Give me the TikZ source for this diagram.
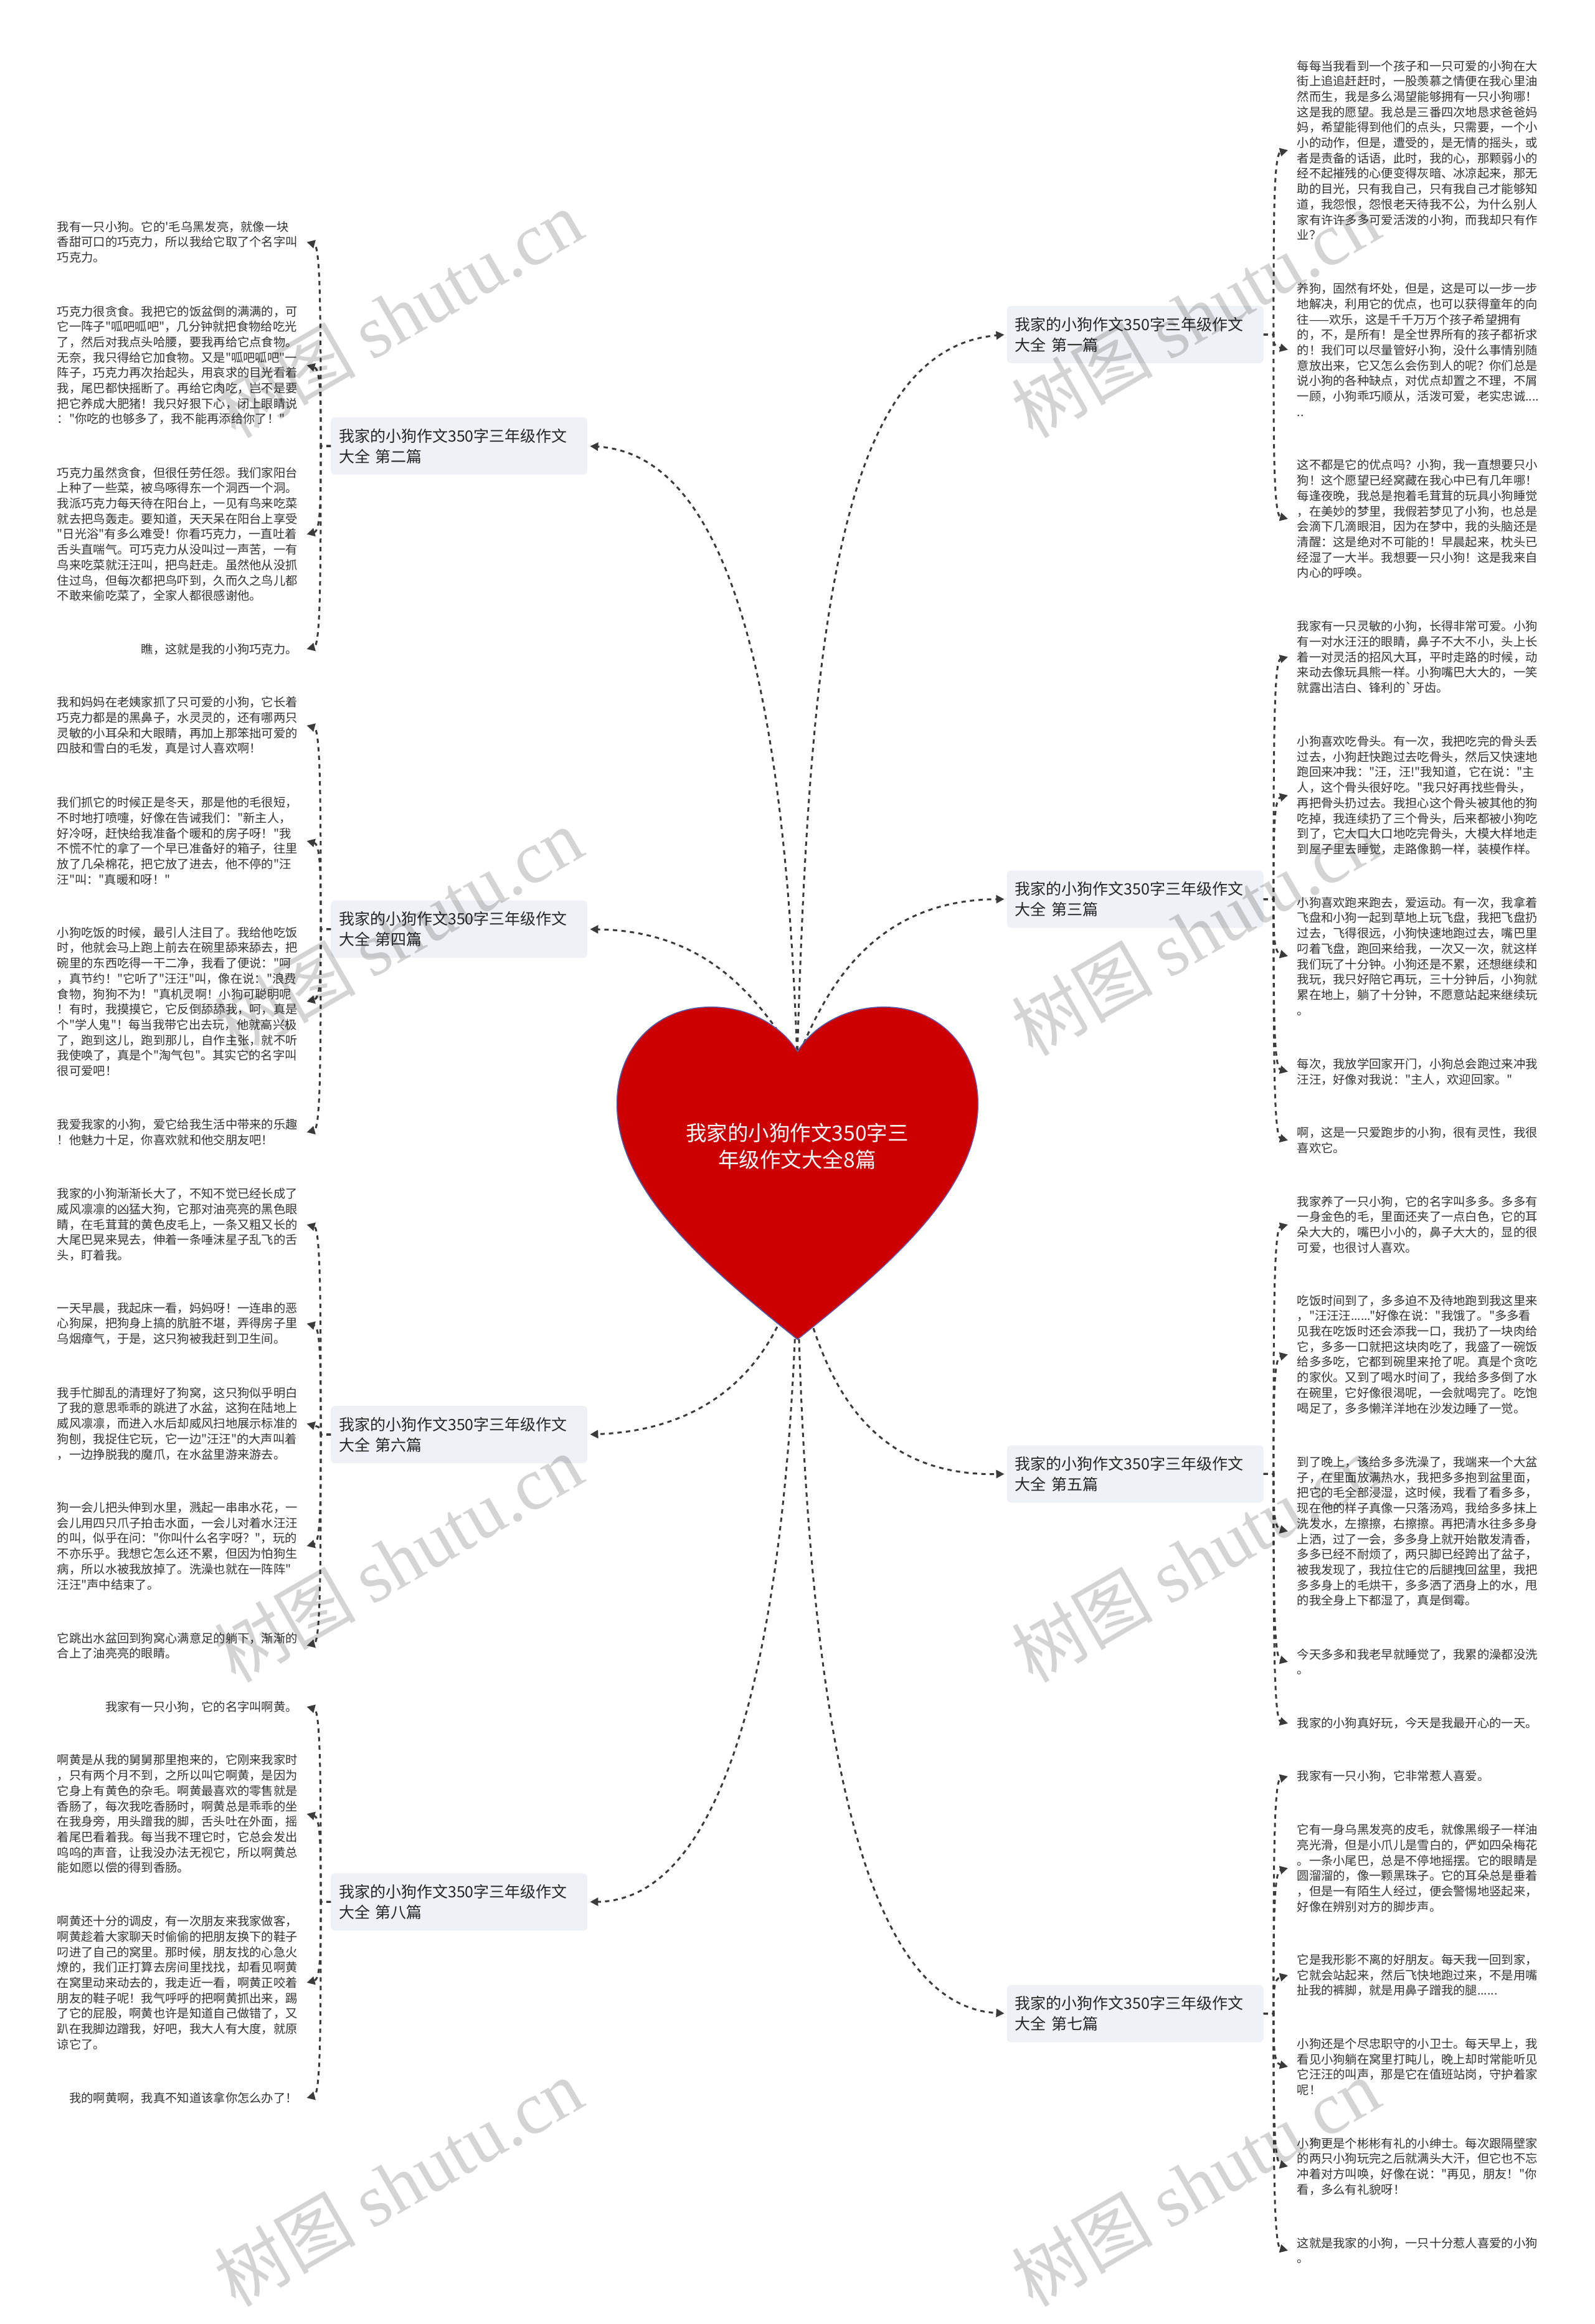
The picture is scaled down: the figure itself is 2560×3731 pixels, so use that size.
\documentclass[tikz,border=0pt]{standalone}
\usepackage{fontspec}
\usetikzlibrary{arrows.meta,calc}
\newfontfamily\cjkfont{Noto Sans CJK SC}
\newfontfamily\wmlatin{Liberation Serif}
\definecolor{ink}{HTML}{333333}
\definecolor{wire}{HTML}{3A3A3A}
\definecolor{boxfill}{HTML}{EEF1F5}
\definecolor{heartfill}{HTML}{CC0000}
\definecolor{heartline}{HTML}{5C58A8}
\tikzset{
  para/.style={font=\cjkfont\fontsize{19.3}{24.7}\selectfont,text=ink,align=left,inner xsep=14.5pt,inner ysep=2pt},
  rp/.style={para,anchor=west},
  lp/.style={para,anchor=east},
  bbox/.style={anchor=west,fill=boxfill,rounded corners=7pt,minimum height=92pt,text width=386pt,inner xsep=13pt,inner ysep=0pt,align=left,text=black!85,font=\cjkfont\fontsize{25}{33}\selectfont},
  link/.style={draw=wire,line width=3pt,dash pattern=on 7pt off 6.7pt,-{Triangle[length=13pt,width=13pt,fill=wire]}},
  rootlink/.style={link,shorten >=4pt},
  roottext/.style={text=white,align=center,font=\cjkfont\fontsize{33.5}{43}\selectfont},
  wm/.style={anchor=base west,rotate=30,text=black,text opacity=0.17,inner sep=0pt,font=\cjkfont\fontsize{114}{114}\selectfont}
}
\newcommand{\twig}[3]{%
  \path ($(#1)+(#3,0)$) coordinate (T);
  \coordinate (K) at (T |- #2);
  \draw[link] (#1) -- (T) .. controls ($(T)!0.6!(K)$) and ($(K)!6pt!(T)$) .. (#2);
}
\newcommand{\wmark}[3]{\node[wm] (#1) at (#2,#3) {树图 {\wmlatin\fontsize{119}{119}\selectfont shutu.cn}};}
\begin{document}
\begin{tikzpicture}[x=1pt,y=-1pt]
\useasboundingbox (0,0) rectangle (2560,3731);
\fill[white] (0,0) rectangle (2560,3731);
\clip (0,0) rectangle (2560,3731);
\coordinate (ntop) at (1280,1700);
\coordinate (nbot) at (1280,2040);
% branch nodes
\node[bbox] (b1) at (1616.5,537) {我家的小狗作文350字三年级作文\\大全 第一篇};
\node[bbox] (b3) at (1616.5,1443.5) {我家的小狗作文350字三年级作文\\大全 第三篇};
\node[bbox] (b5) at (1616.5,2366.3) {我家的小狗作文350字三年级作文\\大全 第五篇};
\node[bbox] (b7) at (1616.5,3232.5) {我家的小狗作文350字三年级作文\\大全 第七篇};
\node[bbox] (b2) at (531,716) {我家的小狗作文350字三年级作文\\大全 第二篇};
\node[bbox] (b4) at (531,1491.7) {我家的小狗作文350字三年级作文\\大全 第四篇};
\node[bbox] (b6) at (531,2303) {我家的小狗作文350字三年级作文\\大全 第六篇};
\node[bbox] (b8) at (531,3053.4) {我家的小狗作文350字三年级作文\\大全 第八篇};
% right column
\node[rp] (r1a) at (2068,241) {每每当我看到一个孩子和一只可爱的小狗在大\\
街上追追赶赶时，一股羡慕之情便在我心里油\\
然而生，我是多么渴望能够拥有一只小狗哪！\\
这是我的愿望。我总是三番四次地恳求爸爸妈\\
妈，希望能得到他们的点头，只需要，一个小\\
小的动作，但是，遭受的，是无情的摇头，或\\
者是责备的话语，此时，我的心，那颗弱小的\\
经不起摧残的心便变得灰暗、冰凉起来，那无\\
助的目光，只有我自己，只有我自己才能够知\\
道，我怨恨，怨恨老天待我不公，为什么别人\\
家有许许多多可爱活泼的小狗，而我却只有作\\
业？};
\node[rp] (r1b) at (2068,561.5) {养狗，固然有坏处，但是，这是可以一步一步\\
地解决，利用它的优点，也可以获得童年的向\\
往——欢乐，这是千千万万个孩子希望拥有\\
的，不，是所有！是全世界所有的孩子都祈求\\
的！我们可以尽量管好小狗，没什么事情别随\\
意放出来，它又怎么会伤到人的呢？你们总是\\
说小狗的各种缺点，对优点却置之不理，不屑\\
一顾，小狗乖巧顺从，活泼可爱，老实忠诚....\\
..};
\node[rp] (r1c) at (2068,833) {这不都是它的优点吗？小狗，我一直想要只小\\
狗！这个愿望已经窝藏在我心中已有几年哪！\\
每逢夜晚，我总是抱着毛茸茸的玩具小狗睡觉\\
，在美妙的梦里，我假若梦见了小狗，也总是\\
会滴下几滴眼泪，因为在梦中，我的头脑还是\\
清醒：这是绝对不可能的！早晨起来，枕头已\\
经湿了一大半。我想要一只小狗！这是我来自\\
内心的呼唤。};
\node[rp] (r3a) at (2068,1054.6) {我家有一只灵敏的小狗，长得非常可爱。小狗\\
有一对水汪汪的眼睛，鼻子不大不小，头上长\\
着一对灵活的招风大耳，平时走路的时候，动\\
来动去像玩具熊一样。小狗嘴巴大大的，一笑\\
就露出洁白、锋利的`牙齿。};
\node[rp] (r3b) at (2068,1276.8) {小狗喜欢吃骨头。有一次，我把吃完的骨头丢\\
过去，小狗赶快跑过去吃骨头，然后又快速地\\
跑回来冲我："汪，汪!"我知道，它在说："主\\
人，这个骨头很好吃。"我只好再找些骨头，\\
再把骨头扔过去。我担心这个骨头被其他的狗\\
吃掉，我连续扔了三个骨头，后来都被小狗吃\\
到了，它大口大口地吃完骨头，大模大样地走\\
到屋子里去睡觉，走路像鹅一样，装模作样。};
\node[rp] (r3c) at (2068,1535) {小狗喜欢跑来跑去，爱运动。有一次，我拿着\\
飞盘和小狗一起到草地上玩飞盘，我把飞盘扔\\
过去，飞得很远，小狗快速地跑过去，嘴巴里\\
叼着飞盘，跑回来给我，一次又一次，就这样\\
我们玩了十分钟。小狗还是不累，还想继续和\\
我玩，我只好陪它再玩，三十分钟后，小狗就\\
累在地上，躺了十分钟，不愿意站起来继续玩\\
。};
\node[rp] (r3d) at (2068,1720.5) {每次，我放学回家开门，小狗总会跑过来冲我\\
汪汪，好像对我说："主人，欢迎回家。"};
\node[rp] (r3e) at (2068,1830.7) {啊，这是一只爱跑步的小狗，很有灵性，我很\\
喜欢它。};
\node[rp] (r5a) at (2068,1966) {我家养了一只小狗，它的名字叫多多。多多有\\
一身金色的毛，里面还夹了一点白色，它的耳\\
朵大大的，嘴巴小小的，鼻子大大的，显的很\\
可爱，也很讨人喜欢。};
\node[rp] (r5b) at (2068,2174.4) {吃饭时间到了，多多迫不及待地跑到我这里来\\
，"汪汪汪......"好像在说："我饿了。"多多看\\
见我在吃饭时还会添我一口，我扔了一块肉给\\
它，多多一口就把这块肉吃了，我盛了一碗饭\\
给多多吃，它都到碗里来抢了呢。真是个贪吃\\
的家伙。又到了喝水时间了，我给多多倒了水\\
在碗里，它好像很渴呢，一会就喝完了。吃饱\\
喝足了，多多懒洋洋地在沙发边睡了一觉。};
\node[rp] (r5c) at (2068,2458.5) {到了晚上，该给多多洗澡了，我端来一个大盆\\
子，在里面放满热水，我把多多抱到盆里面，\\
把它的毛全部浸湿，这时候，我看了看多多，\\
现在他的样子真像一只落汤鸡，我给多多抹上\\
洗发水，左擦擦，右擦擦。再把清水往多多身\\
上洒，过了一会，多多身上就开始散发清香，\\
多多已经不耐烦了，两只脚已经跨出了盆子，\\
被我发现了，我拉住它的后腿拽回盆里，我把\\
多多身上的毛烘干，多多洒了洒身上的水，甩\\
的我全身上下都湿了，真是倒霉。};
\node[rp] (r5d) at (2068,2668) {今天多多和我老早就睡觉了，我累的澡都没洗\\
。};
\node[rp] (r5e) at (2068,2766.7) {我家的小狗真好玩，今天是我最开心的一天。};
\node[rp] (r7a) at (2068,2851.8) {我家有一只小狗，它非常惹人喜爱。};
\node[rp] (r7b) at (2068,2999) {它有一身乌黑发亮的皮毛，就像黑缎子一样油\\
亮光滑，但是小爪儿是雪白的，俨如四朵梅花\\
。一条小尾巴，总是不停地摇摆。它的眼睛是\\
圆溜溜的，像一颗黑珠子。它的耳朵总是垂着\\
，但是一有陌生人经过，便会警惕地竖起来，\\
好像在辨别对方的脚步声。};
\node[rp] (r7c) at (2068,3171) {它是我形影不离的好朋友。每天我一回到家，\\
它就会站起来，然后飞快地跑过来，不是用嘴\\
扯我的裤脚，就是用鼻子蹭我的腿......};
\node[rp] (r7d) at (2068,3318) {小狗还是个尽忠职守的小卫士。每天早上，我\\
看见小狗躺在窝里打盹儿，晚上却时常能听见\\
它汪汪的叫声，那是它在值班站岗，守护着家\\
呢！};
\node[rp] (r7e) at (2068,3478) {小狗更是个彬彬有礼的小绅士。每次跟隔壁家\\
的两只小狗玩完之后就满头大汗，但它也不忘\\
冲着对方叫唤，好像在说："再见，朋友！"你\\
看，多么有礼貌呀！};
\node[rp] (r7f) at (2068,3613) {这就是我家的小狗，一只十分惹人喜爱的小狗\\
。};
% left column
\node[lp] (l2a) at (492.5,388.6) {我有一只小狗。它的'毛乌黑发亮，就像一块\\
香甜可口的巧克力，所以我给它取了个名字叫\\
巧克力。};
\node[lp] (l2b) at (492.5,586.4) {巧克力很贪食。我把它的饭盆倒的满满的，可\\
它一阵子"呱吧呱吧"，几分钟就把食物给吃光\\
了，然后对我点头哈腰，要我再给它点食物。\\
无奈，我只得给它加食物。又是"呱吧呱吧"一\\
阵子，巧克力再次抬起头，用哀求的目光看着\\
我，尾巴都快摇断了。再给它肉吃，岂不是要\\
把它养成大肥猪！我只好狠下心，闭上眼睛说\\
："你吃的也够多了，我不能再添给你了！"};
\node[lp] (l2c) at (492.5,857.8) {巧克力虽然贪食，但很任劳任怨。我们家阳台\\
上种了一些菜，被鸟啄得东一个洞西一个洞。\\
我派巧克力每天待在阳台上，一见有鸟来吃菜\\
就去把鸟轰走。要知道，天天呆在阳台上享受\\
"日光浴"有多么难受！你看巧克力，一直吐着\\
舌头直喘气。可巧克力从没叫过一声苦，一有\\
鸟来吃菜就汪汪叫，把鸟赶走。虽然他从没抓\\
住过鸟，但每次都把鸟吓到，久而久之鸟儿都\\
不敢来偷吃菜了，全家人都很感谢他。};
\node[lp] (l2d) at (492.5,1042) {瞧，这就是我的小狗巧克力。};
\node[lp] (l4a) at (492.5,1164.7) {我和妈妈在老姨家抓了只可爱的小狗，它长着\\
巧克力都是的黑鼻子，水灵灵的，还有哪两只\\
灵敏的小耳朵和大眼睛，再加上那笨拙可爱的\\
四肢和雪白的毛发，真是讨人喜欢啊！};
\node[lp] (l4b) at (492.5,1350) {我们抓它的时候正是冬天，那是他的毛很短，\\
不时地打喷嚏，好像在告诫我们："新主人，\\
好冷呀，赶快给我准备个暖和的房子呀！"我\\
不慌不忙的拿了一个早已准备好的箱子，往里\\
放了几朵棉花，把它放了进去，他不停的"汪\\
汪"叫："真暖和呀！"};
\node[lp] (l4c) at (492.5,1608) {小狗吃饭的时候，最引人注目了。我给他吃饭\\
时，他就会马上跑上前去在碗里舔来舔去，把\\
碗里的东西吃得一干二净，我看了便说："呵\\
，真节约！"它听了"汪汪"叫，像在说："浪费\\
食物，狗狗不为！"真机灵啊！小狗可聪明呢\\
！有时，我摸摸它，它反倒舔舔我，呵，真是\\
个"学人鬼"！每当我带它出去玩，他就高兴极\\
了，跑到这儿，跑到那儿，自作主张，就不听\\
我使唤了，真是个"淘气包"。其实它的名字叫\\
很可爱吧！};
\node[lp] (l4d) at (492.5,1817.8) {我爱我家的小狗，爱它给我生活中带来的乐趣\\
！他魅力十足，你喜欢就和他交朋友吧！};
\node[lp] (l6a) at (492.5,1966) {我家的小狗渐渐长大了，不知不觉已经长成了\\
威风凛凛的凶猛大狗，它那对油亮亮的黑色眼\\
睛，在毛茸茸的黄色皮毛上，一条又粗又长的\\
大尾巴晃来晃去，伸着一条唾沫星子乱飞的舌\\
头，盯着我。};
\node[lp] (l6b) at (492.5,2124.8) {一天早晨，我起床一看，妈妈呀！一连串的恶\\
心狗屎，把狗身上搞的肮脏不堪，弄得房子里\\
乌烟瘴气，于是，这只狗被我赶到卫生间。};
\node[lp] (l6c) at (492.5,2285.5) {我手忙脚乱的清理好了狗窝，这只狗似乎明白\\
了我的意思乖乖的跳进了水盆，这狗在陆地上\\
威风凛凛，而进入水后却威风扫地展示标准的\\
狗刨，我捉住它玩，它一边"汪汪"的大声叫着\\
，一边挣脱我的魔爪，在水盆里游来游去。};
\node[lp] (l6d) at (492.5,2482) {狗一会儿把头伸到水里，溅起一串串水花，一\\
会儿用四只爪子拍击水面，一会儿对着水汪汪\\
的叫，似乎在问："你叫什么名字呀？"，玩的\\
不亦乐乎。我想它怎么还不累，但因为怕狗生\\
病，所以水被我放掉了。洗澡也就在一阵阵"\\
汪汪"声中结束了。};
\node[lp] (l6e) at (492.5,2642) {它跳出水盆回到狗窝心满意足的躺下，渐渐的\\
合上了油亮亮的眼睛。};
\node[lp] (l8a) at (492.5,2740) {我家有一只小狗，它的名字叫啊黄。};
\node[lp] (l8b) at (492.5,2912) {啊黄是从我的舅舅那里抱来的，它刚来我家时\\
，只有两个月不到，之所以叫它啊黄，是因为\\
它身上有黄色的杂毛。啊黄最喜欢的零售就是\\
香肠了，每次我吃香肠时，啊黄总是乖乖的坐\\
在我身旁，用头蹭我的脚，舌头吐在外面，摇\\
着尾巴看着我。每当我不理它时，它总会发出\\
呜呜的声音，让我没办法无视它，所以啊黄总\\
能如愿以偿的得到香肠。};
\node[lp] (l8c) at (492.5,3183) {啊黄还十分的调皮，有一次朋友来我家做客，\\
啊黄趁着大家聊天时偷偷的把朋友换下的鞋子\\
叼进了自己的窝里。那时候，朋友找的心急火\\
燎的，我们正打算去房间里找找，却看见啊黄\\
在窝里动来动去的，我走近一看，啊黄正咬着\\
朋友的鞋子呢！我气呼呼的把啊黄抓出来，踢\\
了它的屁股，啊黄也许是知道自己做错了，又\\
趴在我脚边蹭我，好吧，我大人有大度，就原\\
谅它了。};
\node[lp] (l8d) at (492.5,3368) {我的啊黄啊，我真不知道该拿你怎么办了！};
% twigs
\twig{b1.east}{r1a.west}{16}\twig{b1.east}{r1b.west}{16}\twig{b1.east}{r1c.west}{16}
\twig{b3.east}{r3a.west}{16}\twig{b3.east}{r3b.west}{16}\twig{b3.east}{r3c.west}{16}\twig{b3.east}{r3d.west}{16}\twig{b3.east}{r3e.west}{16}
\twig{b5.east}{r5a.west}{16}\twig{b5.east}{r5b.west}{16}\twig{b5.east}{r5c.west}{16}\twig{b5.east}{r5d.west}{16}\twig{b5.east}{r5e.west}{16}
\twig{b7.east}{r7a.west}{16}\twig{b7.east}{r7b.west}{16}\twig{b7.east}{r7c.west}{16}\twig{b7.east}{r7d.west}{16}\twig{b7.east}{r7e.west}{16}\twig{b7.east}{r7f.west}{16}
\twig{b2.west}{l2a.east}{-16}\twig{b2.west}{l2b.east}{-16}\twig{b2.west}{l2c.east}{-16}\twig{b2.west}{l2d.east}{-16}
\twig{b4.west}{l4a.east}{-16}\twig{b4.west}{l4b.east}{-16}\twig{b4.west}{l4c.east}{-16}\twig{b4.west}{l4d.east}{-16}
\twig{b6.west}{l6a.east}{-16}\twig{b6.west}{l6b.east}{-16}\twig{b6.west}{l6c.east}{-16}\twig{b6.west}{l6d.east}{-16}\twig{b6.west}{l6e.east}{-16}
\twig{b8.west}{l8a.east}{-16}\twig{b8.west}{l8b.east}{-16}\twig{b8.west}{l8c.east}{-16}\twig{b8.west}{l8d.east}{-16}
% root connectors
\draw[rootlink] (ntop) .. controls (1300,1000) and (1350,560) .. (b1.west);
\draw[rootlink] (ntop) .. controls (1325,1590) and (1400,1445) .. (b3.west);
\draw[rootlink] (ntop) .. controls (1260,1100) and (1170,730) .. (b2.east);
\draw[rootlink] (ntop) .. controls (1225,1620) and (1150,1495) .. (b4.east);
\draw[rootlink] (nbot) .. controls (1250,2170) and (1160,2295) .. (b6.east);
\draw[rootlink] (nbot) .. controls (1315,2180) and (1370,2370) .. (b5.west);
\draw[rootlink] (nbot) .. controls (1265,2650) and (1165,3050) .. (b8.east);
\draw[rootlink] (nbot) .. controls (1295,2760) and (1380,3220) .. (b7.west);
% heart
\draw[fill=heartfill,draw=heartline,line width=1.6pt,line join=round]
  (1280.4,1688.2) .. controls (1253.9,1645.3) and (1200.8,1616.7) .. (1141.6,1616.7)
  .. controls (1049.8,1616.7) and (990.6,1686.1) .. (990.6,1771.8)
  .. controls (990.6,1906.5) and (1123.3,2024.9) .. (1280.4,2150.2)
  .. controls (1437.5,2024.9) and (1570.2,1906.5) .. (1570.2,1771.8)
  .. controls (1570.2,1686.1) and (1511,1616.7) .. (1419.2,1616.7)
  .. controls (1360,1616.7) and (1306.9,1645.3) .. (1280.4,1688.2) -- cycle;
\node[roottext] (root) at (1280,1840) {我家的小狗作文350字三\\年级作文大全8篇};
% watermarks
\wmark{wa}{378}{706}\wmark{wb}{378}{1698}\wmark{wc}{378}{2704}\wmark{wd}{378}{3706}
\wmark{we}{1658}{706}\wmark{wf}{1658}{1698}\wmark{wg}{1658}{2704}\wmark{wh}{1658}{3706}
\end{tikzpicture}
\end{document}
